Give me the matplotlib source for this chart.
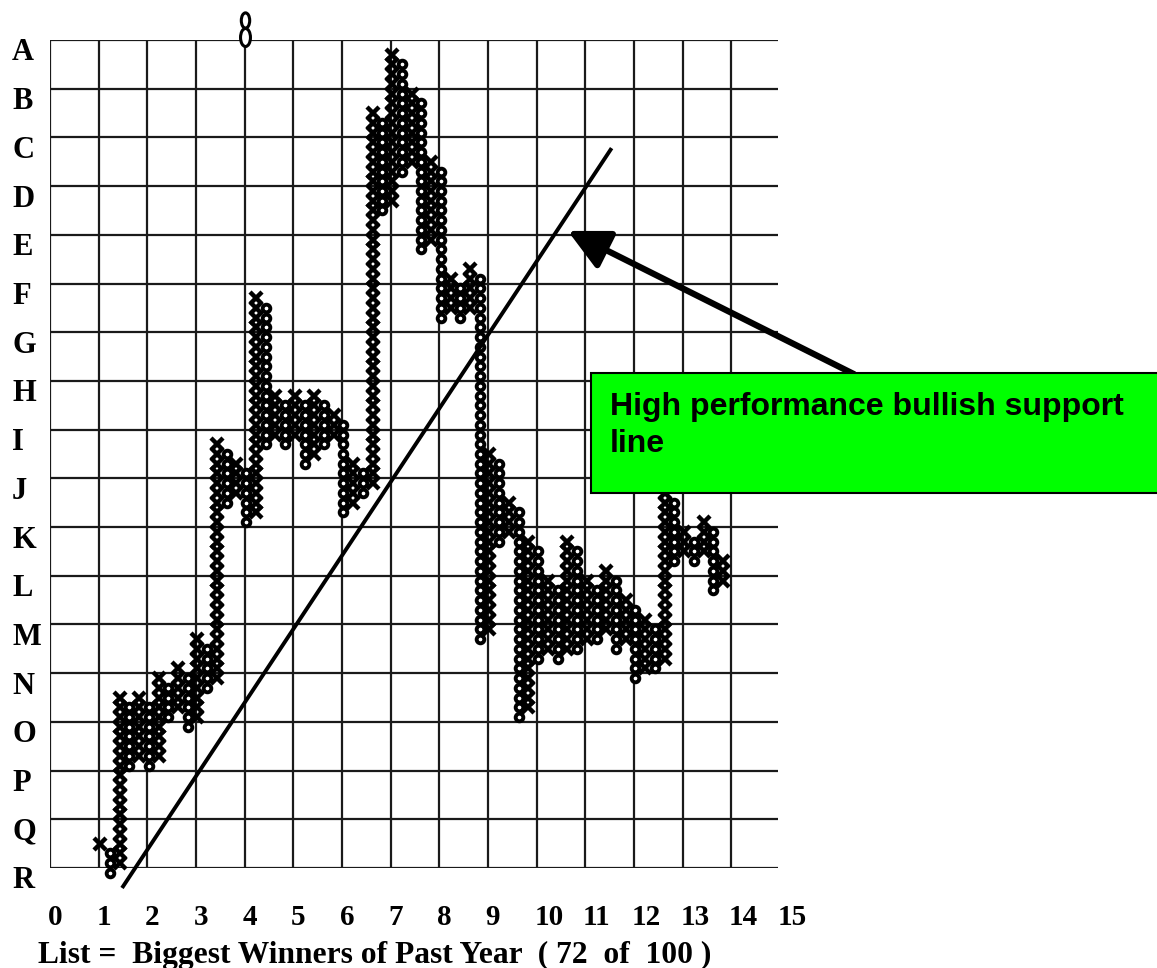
import numpy as np
import matplotlib.pyplot as plt
from matplotlib.patches import Rectangle
from matplotlib.path import Path
from matplotlib.transforms import Affine2D

# point & figure columns (box units, R line = 0, each letter row = 5 boxes)
col_type = "XOXOXOXOXOXOXOXOXOXOXOXOXOXOXOXOXOXOXOXOXOXOXOXOXOXOXOXOXOXOXOXOX"
col_low = [2, -1, 0, 10, 11, 10, 11, 15, 16, 14, 15, 18, 19, 37, 38, 35, 36, 43, 44, 43,
           44, 41, 42, 43, 44, 36, 37, 38, 39, 67, 68, 71, 72, 63, 64, 56, 57, 56, 57, 23,
           24, 33, 34, 15, 16, 21, 22, 21, 22, 22, 23, 23, 24, 22, 23, 19, 20, 20, 21, 31,
           32, 31, 32, 28, 29]
col_high = [2, 1, 17, 16, 17, 16, 19, 18, 20, 19, 23, 22, 43, 42, 41, 40, 58, 57, 48, 47,
            48, 47, 48, 47, 46, 45, 41, 40, 77, 76, 83, 82, 79, 78, 72, 71, 60, 59, 61, 60,
            42, 41, 37, 36, 33, 32, 29, 28, 33, 32, 29, 28, 30, 29, 27, 26, 25, 24, 38, 37,
            34, 33, 35, 34, 31]

row_labels = list("ABCDEFGHIJKLMNOPQR")
x_labels = [str(i) for i in range(16)]
caption = "List =  Biggest Winners of Past Year  ( 72  of  100 )"
note = "High performance bullish support\nline"

trend_x = [1.48, 11.54]
trend_y = [-2.05, 73.9]
arrow_tail = (16.52, 50.7)
arrow_tip = (10.64, 65.4)
mark_x = 4.0
mark_y = [85.3, 87.1]

first_col = 1.03
col_step = 0.2
box_per_row = 5
n_rows = 17

fig = plt.figure(figsize=(11.57, 9.68), dpi=100)
ax = fig.add_axes([50 / 1157, 100 / 968, 730 / 1157, 828 / 968])
ax.set_xlim(0, 15)
ax.set_ylim(0, n_rows * box_per_row)
ax.axis('off')

grid_right = 14.96
grid_top = n_rows * box_per_row
ax.vlines(range(15), 0, grid_top, color='#1a1a1a', lw=1.6, zorder=1)
ax.hlines(range(0, grid_top + 1, box_per_row), 0, grid_right, color='#1a1a1a', lw=1.6, zorder=1)

serif = 'Liberation Serif'
for k, lab in enumerate(row_labels):
    y = grid_top - k * box_per_row
    ax.text(-0.78, y - 2.1, lab, ha='left', va='baseline', fontsize=22,
            family=serif, weight='bold', clip_on=False)
for i, lab in enumerate(x_labels):
    ax.text(i - 0.05, -5.85, lab, ha='left', va='baseline', fontsize=21,
            family=serif, weight='bold', clip_on=False)
ax.text(-0.25, -9.75, caption, ha='left', va='baseline', fontsize=22.7,
        family=serif, weight='bold', clip_on=False)

# columns
for i, t in enumerate(col_type):
    boxes = np.arange(col_low[i], col_high[i] + 1) + 0.5
    xs = np.full(len(boxes), first_col + i * col_step)
    if t == 'X':
        ax.plot(xs, boxes, ls='none', marker='x', ms=8, mew=3.2, color='black',
                zorder=2, clip_on=False)
    else:
        ax.plot(xs, boxes, ls='none', marker='o', ms=5.5, mew=2.8, mfc='white',
                mec='black', zorder=2, clip_on=False)

# the small "8" mark above the grid
ell = Path.unit_circle().transformed(Affine2D().scale(0.55, 1.0))
ax.plot([mark_x], [mark_y[0]], ls='none', marker=ell, ms=13, mew=2.2, mfc='white',
        mec='black', clip_on=False, zorder=3)
ax.plot([mark_x], [mark_y[1]], ls='none', marker=ell, ms=11, mew=2.2, mfc='white',
        mec='black', clip_on=False, zorder=3)

# support line
ax.plot(trend_x, trend_y, color='black', lw=2.8, zorder=3, clip_on=False,
        solid_capstyle='butt')

# annotation box and arrow
ax.add_patch(Rectangle((11.12, 38.5), 12.0, 12.3, facecolor='#00ff00', edgecolor='black',
                       lw=1.5, zorder=5, clip_on=False))
ax.text(11.51, 48.9, note, ha='left', va='top', fontsize=23, weight='bold',
        family='Liberation Sans', linespacing=1.3, zorder=6, clip_on=False)
ax.annotate('', xy=arrow_tip, xytext=arrow_tail, annotation_clip=False,
            arrowprops=dict(arrowstyle='-|>,head_length=1.0,head_width=0.5',
                            mutation_scale=25, lw=4.5, color='black',
                            shrinkA=0, shrinkB=0), zorder=4)

fig.savefig('out.png', dpi=100, facecolor='white')
